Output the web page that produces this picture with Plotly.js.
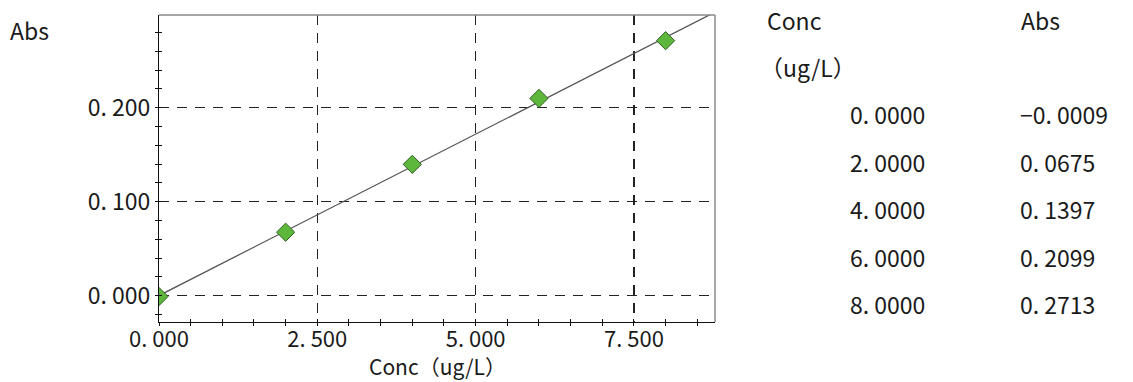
<!DOCTYPE html>
<html>
<head>
<meta charset="utf-8">
<script src="https://cdn.plot.ly/plotly-3.0.1.min.js"></script>
<style>html,body{margin:0;padding:0;background:#fff;}#chart{width:1133px;height:382px;}</style>
</head>
<body>
<div id="chart"></div>
<script>
// ---- data ----
const conc = [0, 2, 4, 6, 8];
const absVals = [-0.0009, 0.0675, 0.1397, 0.2099, 0.2713];
const xTickVals = [0, 2.5, 5, 7.5];
const xTickText = ["0. 000", "2. 500", "5. 000", "7. 500"];
const yTickVals = [0, 0.1, 0.2];
const yTickText = ["0. 000", "0. 100", "0. 200"];
const concLabels = ["0. 0000", "2. 0000", "4. 0000", "6. 0000", "8. 0000"];
const absLabels = ["\u22120. 0009", "0. 0675", "0. 1397", "0. 2099", "0. 2713"];
const xRange = [0, 8.78];
const yRange = [-0.028, 0.2986];

// least-squares calibration line from the data
const n = conc.length;
const mx = conc.reduce((a, b) => a + b, 0) / n;
const my = absVals.reduce((a, b) => a + b, 0) / n;
let sxy = 0, sxx = 0;
for (let i = 0; i < n; i++) { sxy += (conc[i] - mx) * (absVals[i] - my); sxx += (conc[i] - mx) ** 2; }
const slope = sxy / sxx, intercept = my - slope * mx;
const fitX = [conc[0], xRange[1] + 1];
const fitY = fitX.map(x => intercept + slope * x);

const FONT = "'Noto Sans CJK JP', 'Noto Sans', sans-serif";
const TXT = "#1a1a1a";
const FS = 23;

// geometry (pixels)
const W = 1133, H = 382, L = 159, R = 715, T = 15, B = 322;
const px = x => (x - L) / (R - L);
const py = y => (B - y) / (B - T);

const traces = [
  { x: fitX, y: fitY, mode: "lines", line: { color: "#555", width: 1.3 }, hoverinfo: "skip", showlegend: false },
  { x: conc, y: absVals, mode: "markers", cliponaxis: true,
    marker: { symbol: "diamond", size: 14, color: "#5CB73C", line: { color: "#2F5F20", width: 1 } },
    showlegend: false },
  { x: [null], y: [null], xaxis: "x2", yaxis: "y2", showlegend: false, hoverinfo: "skip" }
];

const annotations = [];
function addText(text, x, y, xanchor, size, yanchor) {
  annotations.push({ text: text, xref: "paper", yref: "paper", x: px(x), y: py(y),
    xanchor: xanchor, yanchor: yanchor || "middle", showarrow: false, borderpad: 0,
    font: { family: FONT, size: size || FS, color: TXT } });
}
addText("Conc", 766, 20, "left");
addText("Abs", 1020, 20, "left");
addText("（ug/L）", 759, 67, "left");
const rowY0 = 114, rowStep = 47.6;
for (let i = 0; i < concLabels.length; i++) {
  addText(concLabels[i], 926, rowY0 + i * rowStep, "right");
  addText(absLabels[i], 1019, rowY0 + i * rowStep, "left");
}
addText("Abs", 9, 30, "left");
addText("Conc（ug/L）", 437, 382, "center", 21, "bottom");

const axisCommon = { showline: true, linecolor: "#111", linewidth: 1, zeroline: false,
  tickfont: { family: FONT, size: FS, color: TXT }, tickcolor: "#111", tickwidth: 1 };

const layout = {
  width: W, height: H,
  margin: { l: L, r: W - R, t: T, b: H - B, pad: 0 },
  paper_bgcolor: "#fff", plot_bgcolor: "#fff",
  font: { family: FONT, color: TXT },
  xaxis: Object.assign({}, axisCommon, {
    range: xRange, tickmode: "array", tickvals: xTickVals, ticktext: xTickText,
    tickfont: { family: FONT, size: 22, color: TXT },
    ticks: "outside", ticklen: 3, ticklabelstandoff: -5,
    showgrid: true, gridcolor: "#222", griddash: "10px,8px", gridwidth: 1.2,
    minor: { dtick: 0.5, tick0: 0, ticks: "outside", ticklen: 3, tickcolor: "#111", showgrid: false }
  }),
  yaxis: Object.assign({}, axisCommon, {
    range: yRange, tickmode: "array", tickvals: yTickVals, ticktext: yTickText,
    ticks: "outside", ticklen: 3,
    showgrid: true, gridcolor: "#222", griddash: "10px,8px", gridwidth: 1.2,
    minor: { dtick: 0.02, tick0: 0, ticks: "outside", ticklen: 3, tickcolor: "#111", showgrid: false }
  }),
  xaxis2: { overlaying: "x", matches: "x", range: xRange, showline: false, showgrid: false, zeroline: false,
    showticklabels: false, tickmode: "linear", tick0: 0, dtick: 0.5, ticks: "inside", ticklen: 3,
    tickcolor: "#111", side: "bottom" },
  yaxis2: { overlaying: "y", range: yRange, showline: false, showgrid: false, zeroline: false,
    showticklabels: false, tickmode: "linear", tick0: 0, dtick: 0.02, ticks: "inside", ticklen: 3,
    tickcolor: "#111", side: "left" },
  shapes: [
    { type: "line", xref: "paper", yref: "paper", x0: 0, x1: 1, y0: 1, y1: 1, line: { color: "#888", width: 1.5 } },
    { type: "line", xref: "paper", yref: "paper", x0: 1, x1: 1, y0: 0, y1: 1, line: { color: "#888", width: 1.5 } }
  ],
  annotations: annotations,
  showlegend: false
};

Plotly.newPlot("chart", traces, layout, { staticPlot: true, displayModeBar: false });
</script>
</body>
</html>
